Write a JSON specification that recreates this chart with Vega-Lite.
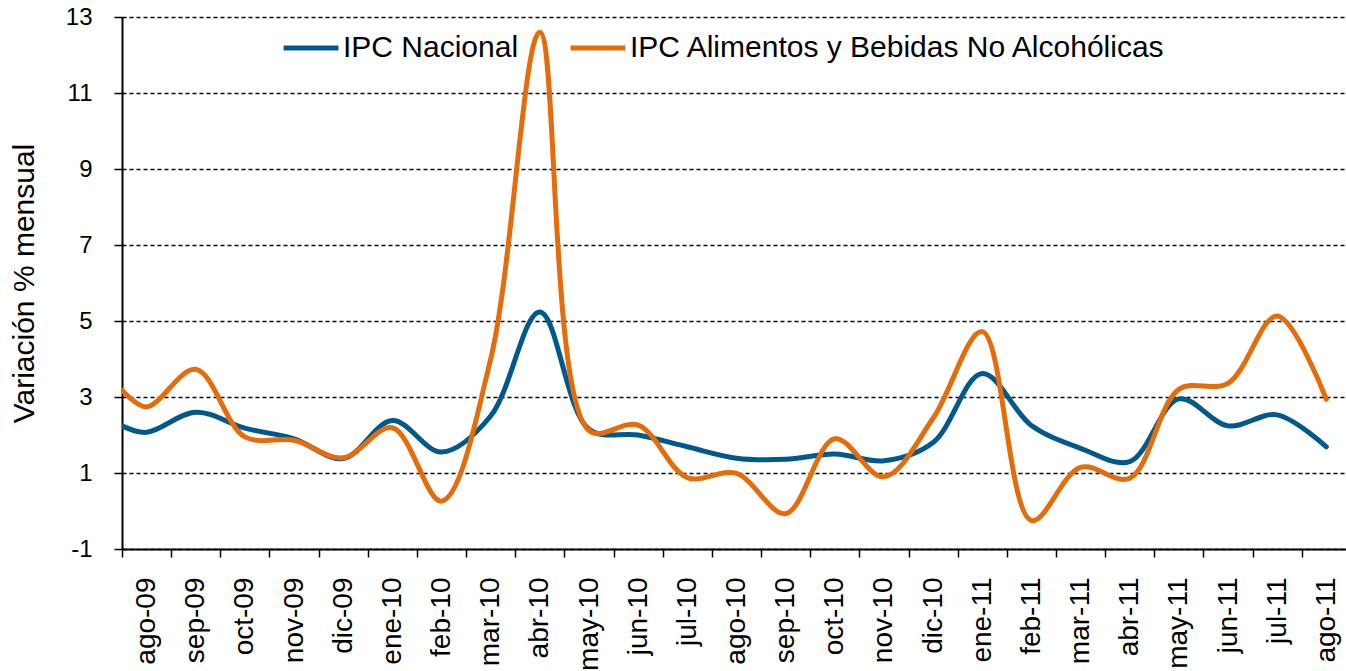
{
  "$schema": "https://vega.github.io/schema/vega-lite/v6.json",
  "autosize": "none",
  "width": 1224,
  "height": 532,
  "padding": {"left": 122, "top": 17, "right": 0, "bottom": 122},
  "background": "white",
  "config": {
    "view": {"stroke": null},
    "font": "Liberation Sans",
    "axis": {"labelFont": "Liberation Sans", "titleFont": "Liberation Sans", "labelColor": "black", "titleColor": "black", "domainColor": "black", "tickColor": "black"}
  },
  "data": {
    "values": [
      {"x": -0.5, "serie": "IPC Nacional", "v": 2.24},
      {"x": 0, "serie": "IPC Nacional", "v": 2.07},
      {"x": 1, "serie": "IPC Nacional", "v": 2.6},
      {"x": 2, "serie": "IPC Nacional", "v": 2.18},
      {"x": 3, "serie": "IPC Nacional", "v": 1.9},
      {"x": 4, "serie": "IPC Nacional", "v": 1.38},
      {"x": 5, "serie": "IPC Nacional", "v": 2.38},
      {"x": 6, "serie": "IPC Nacional", "v": 1.55},
      {"x": 7, "serie": "IPC Nacional", "v": 2.5},
      {"x": 8, "serie": "IPC Nacional", "v": 5.24},
      {"x": 9, "serie": "IPC Nacional", "v": 2.15},
      {"x": 10, "serie": "IPC Nacional", "v": 2.0},
      {"x": 11, "serie": "IPC Nacional", "v": 1.69},
      {"x": 12, "serie": "IPC Nacional", "v": 1.39},
      {"x": 13, "serie": "IPC Nacional", "v": 1.36},
      {"x": 14, "serie": "IPC Nacional", "v": 1.5},
      {"x": 15, "serie": "IPC Nacional", "v": 1.32},
      {"x": 16, "serie": "IPC Nacional", "v": 1.8},
      {"x": 17, "serie": "IPC Nacional", "v": 3.62},
      {"x": 18, "serie": "IPC Nacional", "v": 2.25},
      {"x": 19, "serie": "IPC Nacional", "v": 1.65},
      {"x": 20, "serie": "IPC Nacional", "v": 1.3},
      {"x": 21, "serie": "IPC Nacional", "v": 2.95},
      {"x": 22, "serie": "IPC Nacional", "v": 2.24},
      {"x": 23, "serie": "IPC Nacional", "v": 2.53},
      {"x": 24, "serie": "IPC Nacional", "v": 1.69},
      {"x": -0.5, "serie": "IPC Alimentos y Bebidas No Alcohólicas", "v": 3.18},
      {"x": 0, "serie": "IPC Alimentos y Bebidas No Alcohólicas", "v": 2.74},
      {"x": 1, "serie": "IPC Alimentos y Bebidas No Alcohólicas", "v": 3.73},
      {"x": 2, "serie": "IPC Alimentos y Bebidas No Alcohólicas", "v": 1.95},
      {"x": 3, "serie": "IPC Alimentos y Bebidas No Alcohólicas", "v": 1.86},
      {"x": 4, "serie": "IPC Alimentos y Bebidas No Alcohólicas", "v": 1.4},
      {"x": 5, "serie": "IPC Alimentos y Bebidas No Alcohólicas", "v": 2.19},
      {"x": 6, "serie": "IPC Alimentos y Bebidas No Alcohólicas", "v": 0.26},
      {"x": 7, "serie": "IPC Alimentos y Bebidas No Alcohólicas", "v": 4.0},
      {"x": 8, "serie": "IPC Alimentos y Bebidas No Alcohólicas", "v": 12.6},
      {"x": 9, "serie": "IPC Alimentos y Bebidas No Alcohólicas", "v": 2.12},
      {"x": 10, "serie": "IPC Alimentos y Bebidas No Alcohólicas", "v": 2.26},
      {"x": 11, "serie": "IPC Alimentos y Bebidas No Alcohólicas", "v": 0.88},
      {"x": 12, "serie": "IPC Alimentos y Bebidas No Alcohólicas", "v": 0.99},
      {"x": 13, "serie": "IPC Alimentos y Bebidas No Alcohólicas", "v": -0.07},
      {"x": 14, "serie": "IPC Alimentos y Bebidas No Alcohólicas", "v": 1.9},
      {"x": 15, "serie": "IPC Alimentos y Bebidas No Alcohólicas", "v": 0.9},
      {"x": 16, "serie": "IPC Alimentos y Bebidas No Alcohólicas", "v": 2.44},
      {"x": 17, "serie": "IPC Alimentos y Bebidas No Alcohólicas", "v": 4.72},
      {"x": 18, "serie": "IPC Alimentos y Bebidas No Alcohólicas", "v": -0.25},
      {"x": 19, "serie": "IPC Alimentos y Bebidas No Alcohólicas", "v": 1.15},
      {"x": 20, "serie": "IPC Alimentos y Bebidas No Alcohólicas", "v": 0.86},
      {"x": 21, "serie": "IPC Alimentos y Bebidas No Alcohólicas", "v": 3.2},
      {"x": 22, "serie": "IPC Alimentos y Bebidas No Alcohólicas", "v": 3.36},
      {"x": 23, "serie": "IPC Alimentos y Bebidas No Alcohólicas", "v": 5.13},
      {"x": 24, "serie": "IPC Alimentos y Bebidas No Alcohólicas", "v": 2.94}
    ]
  },
  "mark": {"type": "line", "interpolate": "catmull-rom", "strokeWidth": 5, "strokeCap": "round", "strokeJoin": "round", "clip": true},
  "encoding": {
    "x": {
      "field": "x", "type": "quantitative",
      "scale": {"domain": [-0.5, 24.4], "nice": false, "zero": false},
      "axis": {
        "title": null,
        "values": [-0.5, 0.5, 1.5, 2.5, 3.5, 4.5, 5.5, 6.5, 7.5, 8.5, 9.5, 10.5, 11.5, 12.5, 13.5, 14.5, 15.5, 16.5, 17.5, 18.5, 19.5, 20.5, 21.5, 22.5, 23.5],
        "labelExpr": "['ago-09','sep-09','oct-09','nov-09','dic-09','ene-10','feb-10','mar-10','abr-10','may-10','jun-10','jul-10','ago-10','sep-10','oct-10','nov-10','dic-10','ene-11','feb-11','mar-11','abr-11','may-11','jun-11','jul-11','ago-11'][round(datum.value + 0.5)]",
        "labelOffset": 24.6,
        "labelAngle": -90,
        "labelFontSize": 28,
        "labelPadding": 20,
        "labelOverlap": false,
        "labelBound": false,
        "labelFlush": false,
        "grid": false,
        "tickSize": 8,
        "tickWidth": 1.5,
        "domainWidth": 2
      }
    },
    "y": {
      "field": "v", "type": "quantitative",
      "scale": {"domain": [-1, 13], "nice": false, "zero": false},
      "axis": {
        "title": "Variación % mensual",
        "titleFontSize": 30,
        "titleFontWeight": "normal",
        "titlePadding": 26,
        "values": [-1, 1, 3, 5, 7, 9, 11, 13],
        "labelExpr": "'' + datum.value",
        "labelFontSize": 24,
        "labelPadding": 22,
        "tickSize": 8,
        "tickWidth": 1.5,
        "domainWidth": 2,
        "grid": true,
        "gridColor": "black",
        "gridDash": [4, 3],
        "gridWidth": 1.3,
        "gridOpacity": 1
      }
    },
    "color": {
      "field": "serie", "type": "nominal",
      "scale": {"domain": ["IPC Nacional", "IPC Alimentos y Bebidas No Alcohólicas"], "range": ["#00598C", "#E46C0A"]},
      "legend": {
        "title": null,
        "orient": "none",
        "legendX": 159,
        "legendY": 1,
        "direction": "horizontal",
        "symbolType": "stroke",
        "symbolStrokeWidth": 5,
        "symbolSize": 3000,
        "labelFontSize": 30,
        "labelFont": "Liberation Sans",
        "labelColor": "black",
        "labelOffset": 2,
        "columnPadding": 41,
        "labelLimit": 0
      }
    },
    "order": {"field": "x", "type": "quantitative"}
  }
}
